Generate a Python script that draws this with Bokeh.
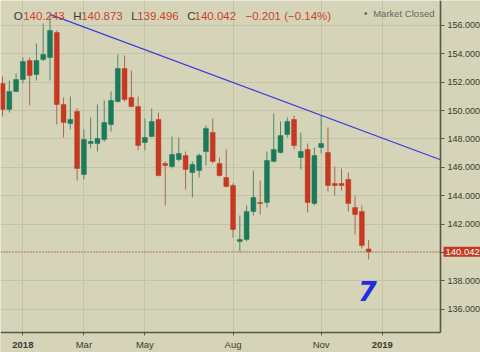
from bokeh.plotting import figure
from bokeh.models import (Range1d, FixedTicker, Label, ColumnDataSource, PrintfTickFormatter,
                          LinearAxis, Grid, BoxAnnotation)
from bokeh.embed import file_html
from bokeh.resources import INLINE

# ---------------- data (weekly candles, Dec 11 2017 .. Dec 24 2018) ----------------
opens = [151.91, 150.08, 151.35, 152.19, 153.53, 152.54, 153.60, 153.74, 155.51, 150.43,
         149.09, 149.94, 145.49, 147.68, 147.68, 147.96, 149.02, 150.64, 152.97, 150.92,
         150.29, 147.75, 148.17, 149.37, 146.27, 146.06, 146.55, 146.83, 145.63, 145.77,
         147.11, 148.45, 146.27, 145.28, 144.72, 140.77, 140.91, 142.88, 143.52, 143.52,
         146.41, 147.04, 148.31, 149.37, 146.69, 147.26, 143.45, 147.40, 147.04, 144.86,
         144.86, 145.14, 143.16, 142.88, 140.243]
highs = [152.40, 152.12, 152.62, 153.74, 153.74, 154.73, 156.14, 156.78, 155.65, 150.92,
         150.99, 150.15, 148.67, 149.51, 150.43, 150.71, 151.35, 153.95, 153.88, 152.83,
         150.99, 149.44, 150.15, 149.86, 146.41, 148.17, 148.10, 147.11, 146.41, 146.97,
         148.95, 149.44, 146.69, 147.26, 144.86, 142.60, 143.31, 145.77, 145.07, 147.11,
         149.79, 149.23, 149.51, 149.65, 148.45, 147.68, 147.40, 149.65, 148.81, 146.06,
         145.91, 145.63, 144.01, 143.31, 140.873]
lows = [149.58, 149.86, 151.28, 151.91, 150.36, 152.12, 153.50, 152.12, 149.02, 148.10,
        148.67, 145.07, 145.14, 147.33, 147.11, 147.80, 148.52, 150.57, 150.64, 150.22,
        147.19, 147.19, 148.10, 145.35, 143.31, 145.92, 146.41, 144.43, 143.87, 145.28,
        146.13, 146.27, 145.35, 144.58, 141.05, 140.06, 140.77, 142.60, 142.67, 143.16,
        146.35, 146.97, 148.10, 147.26, 145.85, 142.81, 143.31, 146.97, 144.29, 144.01,
        144.36, 142.88, 141.26, 140.27, 139.496]
closes = [150.08, 151.35, 152.19, 153.46, 152.47, 153.53, 153.95, 155.65, 150.43, 149.16,
          149.37, 145.92, 147.96, 147.82, 148.03, 149.16, 150.71, 152.97, 150.78, 150.29,
          147.54, 148.10, 149.23, 145.42, 146.13, 146.90, 146.97, 145.85, 146.20, 146.83,
          148.74, 146.41, 145.42, 144.65, 141.61, 140.91, 142.88, 143.87, 143.45, 146.48,
          147.26, 148.24, 149.23, 147.54, 147.11, 143.52, 146.83, 147.68, 144.72, 144.72,
          144.72, 143.45, 142.67, 140.49, 140.042]

# time axis: bar index of first weekly bar of each labelled month
tick_bars = [3, 12, 21, 34, 47, 56]
tick_labels = ["2018", "Mar", "May", "Aug", "Nov", "2019"]
year_ticks = ["2018", "2019"]

price_ticks = [136, 138, 140, 142, 144, 146, 148, 150, 152, 154, 156]

# drawn trend line (bar index, price)
trend_x = [7, 64.6]
trend_y = [156.78, 146.53]

change_text = "\u22120.201 (\u22120.14%)"
status_text = "Market Closed"
drawn_mark = "7"

# ---------------- layout ----------------
W, H = 480, 352
FW, FH = 440, 332            # chart area (pixels) left of the price scale / above time scale
X0, X1 = -0.3, 64.6          # bar-index range of chart area
Y0, Y1 = 134.35, 157.76      # price range of chart area
X1F = X0 + W * (X1 - X0) / FW
Y0F = Y1 - H * (Y1 - Y0) / FH

def px_x(px):
    return X0 + px * (X1 - X0) / FW

def px_y(py):
    return Y1 - py * (Y1 - Y0) / FH

BG = "#d6d4b8"
GRID = "#c3c3a8"
GREEN = "#1c7a5a"
RED = "#c53822"
GREEN_WICK = "#4a8a6a"
RED_WICK = "#a8684e"
AXIS = "#55554a"
TXT = "#3a3a30"
FONT = "Liberation Sans"

p = figure(width=W, height=H, output_backend="svg", toolbar_location=None,
           x_range=Range1d(X0, X1F), y_range=Range1d(Y0F, Y1),
           x_axis_type=None, y_axis_type=None,
           min_border_left=0, min_border_top=0, min_border_right=0, min_border_bottom=0)
p.background_fill_color = BG
p.border_fill_color = BG
p.outline_line_color = None

# grids
xgrid = Grid(dimension=0, ticker=FixedTicker(ticks=tick_bars), grid_line_color=GRID, grid_line_width=1)
ygrid = Grid(dimension=1, ticker=FixedTicker(ticks=price_ticks), grid_line_color=GRID, grid_line_width=1)
if hasattr(xgrid, "cross_bounds"):
    xgrid.cross_bounds = (Y0, Y1)
    ygrid.cross_bounds = (X0, X1)
p.add_layout(xgrid)
p.add_layout(ygrid)
# scale areas: plain background over the grid
p.add_layout(BoxAnnotation(left=X1, level="underlay", fill_color=BG, fill_alpha=1, line_color=None))
p.add_layout(BoxAnnotation(top=Y0, level="underlay", fill_color=BG, fill_alpha=1, line_color=None))

idx = list(range(len(opens)))
up = [c >= o for o, c in zip(opens, closes)]

def subset(flag):
    sel = [i for i in idx if up[i] == flag]
    return ColumnDataSource(dict(
        x=sel,
        high=[highs[i] for i in sel],
        low=[lows[i] for i in sel],
        top=[max(opens[i], closes[i]) for i in sel],
        bottom=[min(opens[i], closes[i]) for i in sel],
    ))

src_up = subset(True)
src_dn = subset(False)

p.segment(x0="x", y0="high", x1="x", y1="low", source=src_up, line_color=GREEN_WICK, line_width=1)
p.segment(x0="x", y0="high", x1="x", y1="low", source=src_dn, line_color=RED_WICK, line_width=1)
p.vbar(x="x", top="top", bottom="bottom", width=0.72, source=src_up,
       fill_color=GREEN, line_color=GREEN, line_width=0.5)
p.vbar(x="x", top="top", bottom="bottom", width=0.72, source=src_dn,
       fill_color=RED, line_color=RED, line_width=0.5)

# last price dotted line
p.segment(x0=[X0], y0=[closes[-1]], x1=[X1], y1=[closes[-1]],
          line_color="#b03a28", line_width=1, line_dash="1 2")

# trend line
p.line(trend_x, trend_y, line_color="#3a3ae0", line_width=1.2)

# ---------------- axes (fixed inside the canvas) ----------------
ax = LinearAxis(ticker=FixedTicker(ticks=tick_bars), fixed_location=Y0, bounds=(X0, X1))
ax.major_label_overrides = {b: ("" if l in year_ticks else l) for b, l in zip(tick_bars, tick_labels)}
ax.major_label_text_font = FONT
ax.major_label_text_font_size = "9.5px"
ax.major_label_text_color = TXT
ax.major_label_standoff = 3
ax.major_tick_out = 3
ax.major_tick_in = 0
ax.minor_tick_out = 0
ax.minor_tick_in = 0
ax.axis_line_color = AXIS
ax.axis_line_width = 1.6
ax.major_tick_line_color = AXIS
p.add_layout(ax, "below")

ay = LinearAxis(ticker=FixedTicker(ticks=price_ticks), fixed_location=X1, bounds=(Y0, Y1),
                formatter=PrintfTickFormatter(format="%.3f"))
ay.major_label_text_font = FONT
ay.major_label_text_font_size = "9px"
ay.major_label_text_color = TXT
ay.major_label_standoff = 3
ay.major_tick_out = 4
ay.major_tick_in = 0
ay.minor_tick_out = 0
ay.minor_tick_in = 0
ay.axis_line_color = AXIS
ay.axis_line_width = 1.6
ay.major_tick_line_color = AXIS
p.add_layout(ay, "right")

# bold year labels under the time axis
for b, l in zip(tick_bars, tick_labels):
    if l in year_ticks:
        p.add_layout(Label(x=b, y=px_y(344.5), text=l, text_align="center",
                           text_baseline="alphabetic", text_font=FONT,
                           text_font_size="9.5px", text_font_style="bold",
                           text_color=TXT))

# ---------------- header (OHLC legend) ----------------
def hdr(px, text, color, size="11.5px", py=15.0):
    p.add_layout(Label(x=px_x(px), y=px_y(py), text=text, text_align="left",
                       text_baseline="alphabetic", text_font=FONT,
                       text_font_size=size, text_color=color))

LBL = "#3a3a3a"
VAL = "#c8452a"
hdr(13.3, "O", LBL)
hdr(22.7, f"{opens[-1]:.3f}", VAL)
hdr(72.7, "H", LBL)
hdr(80.7, f"{highs[-1]:.3f}", VAL)
hdr(130.7, "L", LBL)
hdr(136.7, f"{lows[-1]:.3f}", VAL)
hdr(186.7, "C", LBL)
hdr(194.0, f"{closes[-1]:.3f}", VAL)
hdr(245.0, change_text, VAL)
hdr(363.5, "\u2022", "#666660", size="10px", py=12.5)
hdr(372.7, status_text, "#666660", size="9.5px", py=12.5)

# last price tag on the price scale
p.add_layout(Label(x=px_x(443), y=closes[-1], text=f"{closes[-1]:.3f}",
                   text_align="left", text_baseline="middle", text_font=FONT,
                   text_font_size="9.5px", text_color="white",
                   background_fill_color=RED, padding=2))

# hand-drawn mark
p.add_layout(Label(x=px_x(367), y=px_y(290), text=drawn_mark, text_align="center",
                   text_baseline="alphabetic", text_font="DejaVu Sans",
                   text_font_size="27px", text_font_style="bold italic",
                   text_color="#1f2de6"))

open("out.html", "w").write(file_html(p, INLINE))
